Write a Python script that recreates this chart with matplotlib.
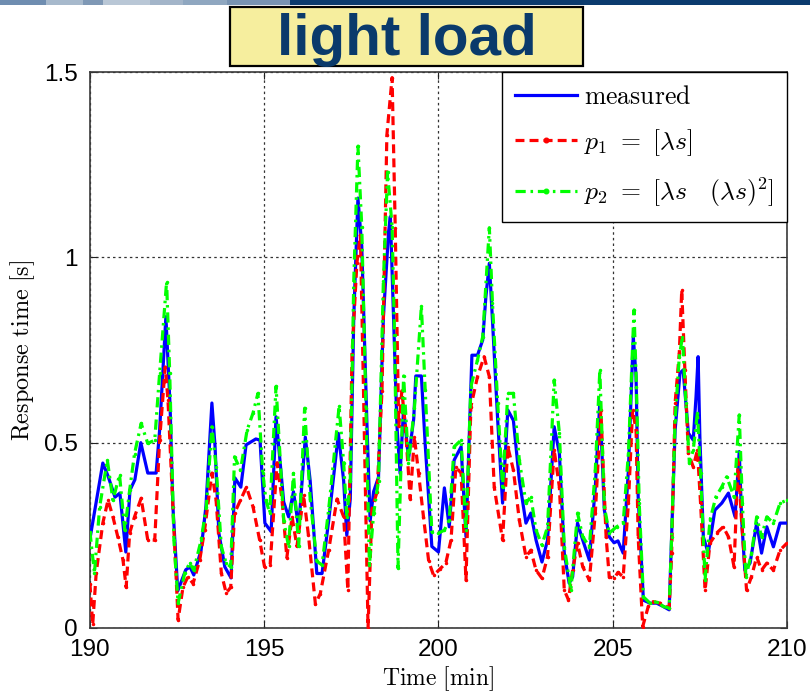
import matplotlib
matplotlib.use('Agg')
import matplotlib.pyplot as plt
from matplotlib.patches import Rectangle

plt.rcParams['mathtext.fontset'] = 'cm'
plt.rcParams['font.family'] = ['Liberation Sans', 'DejaVu Sans']

# ---------------- data ----------------
t_measured = [190.00, 190.37, 190.52, 190.72, 190.86, 191.03, 191.15, 191.29, 191.46, 191.66,
              191.90, 192.00, 192.18, 192.30, 192.38, 192.52, 192.75, 192.87, 192.98, 193.19,
              193.33, 193.50, 193.59, 193.70, 193.87, 194.05, 194.16, 194.33, 194.48, 194.76,
              194.88, 195.02, 195.20, 195.34, 195.56, 195.70, 195.84, 195.99, 196.18, 196.32,
              196.51, 196.66, 196.85, 197.13, 197.28, 197.37, 197.47, 197.57, 197.69, 197.80,
              197.95, 198.04, 198.14, 198.28, 198.42, 198.57, 198.62, 198.71, 198.81, 198.90,
              199.00, 199.14, 199.29, 199.35, 199.51, 199.62, 199.81, 200.00, 200.17, 200.31,
              200.45, 200.65, 200.79, 200.96, 201.12, 201.27, 201.36, 201.46, 201.55, 201.70,
              201.84, 201.99, 202.15, 202.32, 202.51, 202.65, 202.80, 202.97, 203.13, 203.32,
              203.47, 203.61, 203.75, 203.85, 203.99, 204.14, 204.33, 204.50, 204.63, 204.76,
              204.90, 205.04, 205.15, 205.30, 205.45, 205.59, 205.67, 205.73, 205.88, 206.07,
              206.26, 206.45, 206.62, 206.69, 206.79, 206.93, 207.02, 207.17, 207.31, 207.39,
              207.45, 207.50, 207.60, 207.74, 207.93, 208.13, 208.32, 208.51, 208.63, 208.70,
              208.79, 208.94, 209.13, 209.27, 209.42, 209.61, 209.80, 210.00]
measured = [0.240, 0.445, 0.410, 0.353, 0.364, 0.205, 0.372, 0.400, 0.500, 0.418,
            0.418, 0.534, 0.840, 0.600, 0.330, 0.100, 0.157, 0.165, 0.143, 0.210,
            0.330, 0.607, 0.490, 0.256, 0.165, 0.135, 0.405, 0.380, 0.494, 0.510,
            0.507, 0.283, 0.260, 0.570, 0.340, 0.300, 0.368, 0.270, 0.515, 0.397,
            0.147, 0.147, 0.289, 0.525, 0.397, 0.250, 0.348, 0.838, 1.160, 1.030,
            0.544, 0.289, 0.368, 0.407, 0.838, 1.070, 1.110, 0.838, 0.544, 0.417,
            0.593, 0.456, 0.564, 0.680, 0.680, 0.495, 0.220, 0.205, 0.378, 0.273,
            0.453, 0.489, 0.246, 0.736, 0.736, 0.777, 0.893, 0.984, 0.830, 0.560,
            0.337, 0.588, 0.560, 0.400, 0.283, 0.310, 0.237, 0.178, 0.237, 0.543,
            0.471, 0.202, 0.121, 0.138, 0.283, 0.237, 0.183, 0.380, 0.610, 0.318,
            0.246, 0.230, 0.235, 0.202, 0.426, 0.786, 0.678, 0.354, 0.075, 0.067,
            0.067, 0.058, 0.049, 0.246, 0.534, 0.688, 0.696, 0.526, 0.507, 0.624,
            0.732, 0.516, 0.246, 0.202, 0.318, 0.337, 0.364, 0.300, 0.476, 0.291,
            0.156, 0.175, 0.283, 0.202, 0.273, 0.219, 0.283, 0.283]

t_p1 = [190.00, 190.08, 190.18, 190.37, 190.52, 190.66, 190.80, 190.95, 191.04, 191.14,
        191.28, 191.47, 191.66, 191.86, 192.00, 192.16, 192.24, 192.38, 192.53, 192.67,
        192.81, 192.96, 193.15, 193.29, 193.50, 193.62, 193.77, 193.91, 194.04, 194.15,
        194.32, 194.49, 194.68, 194.87, 195.01, 195.17, 195.37, 195.51, 195.65, 195.80,
        195.94, 196.13, 196.27, 196.47, 196.61, 196.85, 197.09, 197.28, 197.40, 197.52,
        197.66, 197.76, 197.85, 197.98, 198.09, 198.24, 198.38, 198.52, 198.67, 198.76,
        198.86, 198.95, 199.05, 199.19, 199.31, 199.43, 199.57, 199.72, 199.86, 200.05,
        200.21, 200.36, 200.50, 200.65, 200.79, 200.93, 201.12, 201.31, 201.46, 201.60,
        201.84, 201.99, 202.15, 202.32, 202.51, 202.65, 202.80, 202.97, 203.13, 203.32,
        203.47, 203.61, 203.73, 203.85, 203.99, 204.14, 204.33, 204.50, 204.66, 204.81,
        204.90, 205.04, 205.15, 205.30, 205.45, 205.57, 205.67, 205.73, 205.86, 206.02,
        206.16, 206.36, 206.62, 206.69, 206.79, 206.91, 206.98, 207.07, 207.17, 207.31,
        207.43, 207.52, 207.65, 207.79, 207.98, 208.17, 208.32, 208.48, 208.60, 208.70,
        208.84, 208.98, 209.13, 209.27, 209.42, 209.61, 209.80, 210.00]
p1 = [0.120, 0.010, 0.148, 0.283, 0.345, 0.300, 0.246, 0.183, 0.110, 0.256,
      0.300, 0.350, 0.237, 0.237, 0.507, 0.704, 0.615, 0.327, 0.022, 0.110,
      0.138, 0.120, 0.183, 0.264, 0.418, 0.345, 0.148, 0.094, 0.110, 0.310,
      0.345, 0.380, 0.327, 0.237, 0.165, 0.170, 0.446, 0.348, 0.190, 0.300,
      0.220, 0.358, 0.250, 0.064, 0.093, 0.210, 0.348, 0.300, 0.103, 0.740,
      0.985, 1.060, 0.640, 0.000, 0.320, 0.368, 0.640, 1.330, 1.485, 1.080,
      0.544, 0.640, 0.544, 0.348, 0.515, 0.417, 0.300, 0.180, 0.142, 0.160,
      0.175, 0.237, 0.434, 0.418, 0.129, 0.597, 0.678, 0.732, 0.678, 0.380,
      0.237, 0.489, 0.426, 0.291, 0.192, 0.210, 0.156, 0.134, 0.192, 0.480,
      0.380, 0.102, 0.076, 0.156, 0.229, 0.165, 0.129, 0.310, 0.588, 0.246,
      0.138, 0.134, 0.150, 0.138, 0.337, 0.588, 0.534, 0.246, 0.004, 0.058,
      0.071, 0.067, 0.054, 0.202, 0.607, 0.742, 0.912, 0.696, 0.471, 0.435,
      0.480, 0.337, 0.102, 0.229, 0.256, 0.273, 0.246, 0.165, 0.453, 0.283,
      0.102, 0.138, 0.192, 0.156, 0.175, 0.156, 0.210, 0.229]

t_p2 = [190.00, 190.13, 190.28, 190.50, 190.66, 190.85, 191.00, 191.14, 191.28, 191.47,
        191.66, 191.86, 192.00, 192.20, 192.29, 192.41, 192.53, 192.72, 192.86, 192.98,
        193.19, 193.34, 193.50, 193.62, 193.77, 193.91, 194.04, 194.15, 194.32, 194.51,
        194.68, 194.82, 194.96, 195.05, 195.16, 195.34, 195.56, 195.70, 195.84, 195.99,
        196.16, 196.32, 196.51, 196.66, 196.85, 197.15, 197.28, 197.37, 197.47, 197.57,
        197.69, 197.80, 197.92, 198.02, 198.14, 198.28, 198.42, 198.54, 198.67, 198.74,
        198.84, 199.00, 199.14, 199.31, 199.51, 199.62, 199.81, 200.00, 200.17, 200.31,
        200.45, 200.65, 200.79, 200.93, 201.12, 201.27, 201.46, 201.55, 201.70, 201.84,
        201.99, 202.15, 202.32, 202.51, 202.65, 202.80, 202.97, 203.13, 203.32, 203.47,
        203.61, 203.80, 203.99, 204.14, 204.33, 204.50, 204.63, 204.76, 204.90, 205.11,
        205.30, 205.45, 205.61, 205.68, 205.76, 205.88, 206.07, 206.26, 206.45, 206.62,
        206.69, 206.79, 206.91, 207.00, 207.10, 207.20, 207.31, 207.43, 207.52, 207.65,
        207.79, 207.96, 208.13, 208.27, 208.48, 208.63, 208.72, 208.82, 208.98, 209.13,
        209.27, 209.42, 209.61, 209.80, 210.00]
p2 = [0.260, 0.148, 0.327, 0.453, 0.345, 0.413, 0.264, 0.372, 0.470, 0.552,
      0.498, 0.507, 0.687, 0.934, 0.687, 0.237, 0.067, 0.148, 0.175, 0.156,
      0.237, 0.327, 0.543, 0.435, 0.219, 0.175, 0.165, 0.462, 0.426, 0.534,
      0.580, 0.633, 0.418, 0.345, 0.310, 0.652, 0.290, 0.220, 0.417, 0.220,
      0.593, 0.348, 0.180, 0.170, 0.320, 0.598, 0.446, 0.300, 0.397, 0.936,
      1.300, 1.083, 0.593, 0.170, 0.309, 0.397, 0.936, 1.230, 1.083, 0.790,
      0.162, 0.680, 0.446, 0.593, 0.868, 0.642, 0.260, 0.256, 0.264, 0.291,
      0.489, 0.507, 0.264, 0.651, 0.723, 0.786, 1.080, 0.876, 0.606, 0.380,
      0.633, 0.633, 0.453, 0.337, 0.354, 0.264, 0.224, 0.273, 0.669, 0.525,
      0.219, 0.102, 0.310, 0.246, 0.219, 0.426, 0.696, 0.327, 0.256, 0.273,
      0.283, 0.471, 0.858, 0.651, 0.337, 0.084, 0.067, 0.071, 0.058, 0.054,
      0.246, 0.561, 0.732, 0.786, 0.607, 0.445, 0.480, 0.580, 0.417, 0.130,
      0.291, 0.354, 0.381, 0.408, 0.354, 0.575, 0.337, 0.138, 0.200, 0.300,
      0.246, 0.300, 0.283, 0.337, 0.345]

x_ticks = [190, 195, 200, 205, 210]
x_tick_labels = ['190', '195', '200', '205', '210']
y_ticks = [0, 0.5, 1, 1.5]
y_tick_labels = ['0', '0.5', '1', '1.5']
labels = [r'$\mathrm{measured}$',
          r'$p_{\mathbf{1}}\ =\ [\lambda s]$',
          r'$p_{\mathbf{2}}\ =\ [\lambda s\quad (\lambda s)^{\mathbf{2}}]$']
title_text = 'light load'

# ---------------- figure ----------------
fig = plt.figure(figsize=(8.1, 6.98), dpi=100)

# top banner of the slide
banner = [(0, 46, '#6f8db0'), (46, 83, '#a7b9cc'), (83, 103, '#7f98b5'),
          (103, 150, '#b9c7d6'), (150, 183, '#a3b5c9'), (183, 227, '#8fa7c0'),
          (227, 290, '#7893b2'), (290, 810, '#0b3b6e')]
for x0, x1, c in banner:
    fig.patches.append(Rectangle((x0 / 810, 1 - 5 / 698), (x1 - x0) / 810, 5 / 698,
                                 transform=fig.transFigure, facecolor=c,
                                 edgecolor='none', zorder=0))

ax = fig.add_axes([0.111, 0.1003, 0.8606, 0.7965])

ax.plot(t_measured, measured, color='#0000ff', lw=2.3, ls='-', label=labels[0], zorder=3)
ax.plot(t_p1, p1, color='#ff0000', lw=2.3, ls=(0, (2.8, 1.6)), marker='.', ms=3,
        label=labels[1], zorder=4)
ax.plot(t_p2, p2, color='#00ff00', lw=2.3, ls=(0, (3.2, 1.5, 0.8, 1.5)), marker='.', ms=3,
        label=labels[2], zorder=5)

ax.set_xlim(190, 210)
ax.set_ylim(0, 1.5)
ax.set_xticks(x_ticks)
ax.set_xticklabels(x_tick_labels)
ax.set_yticks(y_ticks)
ax.set_yticklabels(y_tick_labels)
ax.tick_params(direction='in', length=5, width=0.8, labelsize=17.5, top=True, right=True,
               colors='#222222', labelcolor='black')
ax.tick_params(axis='x', pad=8)
ax.tick_params(axis='y', pad=9)
ax.grid(True, color='#333333', ls=(0, (2, 2.5)), lw=0.9)
for s in ax.spines.values():
    s.set_color('#3a3a3a')
    s.set_linewidth(1.2)

ax.set_xlabel(r'$\mathrm{Time\ [min]}$', fontsize=17, labelpad=2)
ax.set_ylabel(r'$\mathrm{Response\ time\ [s]}$', fontsize=17.5, labelpad=5)

leg = ax.legend(loc='upper right', bbox_to_anchor=(1, 1), borderaxespad=0,
                fontsize=18.5, fancybox=False, edgecolor='black', framealpha=1,
                handlelength=2.4, handletextpad=0.3, labelspacing=0.7,
                borderpad=0.5, numpoints=1, markerscale=2.2)
leg.get_frame().set_linewidth(1.0)
leg.set_zorder(10)

# title box
fig.patches.append(Rectangle((230 / 810, 1 - 66 / 698), 353 / 810, 59 / 698,
                             transform=fig.transFigure, facecolor='#f6ee9e',
                             edgecolor='black', lw=1.6, zorder=1))
fig.text(0.502, 1 - 55 / 698, title_text, ha='center', va='baseline',
         fontsize=42, fontweight='bold', color='#0a3a6b', zorder=20)

fig.savefig('out.png', dpi=100)
